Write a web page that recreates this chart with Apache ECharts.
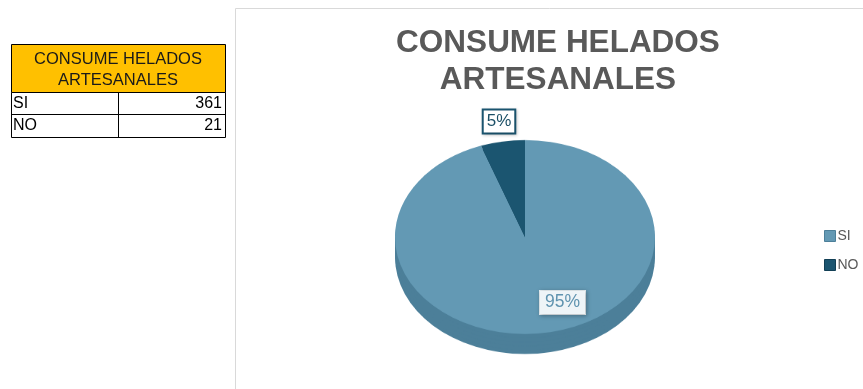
<!DOCTYPE html>
<html><head><meta charset="utf-8">
<script src="https://cdn.jsdelivr.net/npm/echarts@6/dist/echarts.min.js"></script>
<style>
html,body{margin:0;padding:0;background:#fff;width:863px;height:389px;overflow:hidden}
#pie{position:absolute;left:0;top:0;width:863px;height:521px;transform-origin:0 0;transform:scaleY(0.746);z-index:1}
#main{position:absolute;left:0;top:0;width:863px;height:389px;z-index:2}
</style></head><body>
<div id="pie"></div><div id="main"></div>
<script>
// ---- data ----
const categories = ['SI', 'NO'];
const values = [361, 21];
const tableHeader = ['CONSUME HELADOS', 'ARTESANALES'];
const chartTitle = 'CONSUME HELADOS\nARTESANALES';

// ---- styles ----
const topColors = ['#6399b4', '#1b5570'];
const sideColors = ['#4c7f99', '#123f55'];
const SCALE = 0.746;
const CX = 525, CY = 237, R = 130;
const FONT = "'Liberation Sans', Arial, sans-serif";

const total = values.reduce((a, b) => a + b, 0);
const pieData = categories.map((c, i) => ({ name: c, value: values[i] }));

// ---- 3D-looking elliptical pie (squashed instance) ----
const pieChart = echarts.init(document.getElementById('pie'), null, { renderer: 'canvas' });
const pieSeries = [];
[20, 16, 12, 8, 4].forEach(k => {
  pieSeries.push({
    type: 'pie', silent: true, animation: false,
    center: [CX, (CY + k) / SCALE], radius: R,
    startAngle: 90, clockwise: true,
    label: { show: false }, labelLine: { show: false },
    itemStyle: { color: p => sideColors[p.dataIndex], borderWidth: 0 },
    data: pieData
  });
});
pieSeries.push({
  type: 'pie', silent: true, animation: false,
  center: [CX, CY / SCALE], radius: R,
  startAngle: 90, clockwise: true,
  label: { show: false }, labelLine: { show: false },
  itemStyle: { color: p => topColors[p.dataIndex], borderWidth: 0 },
  data: pieData
});
pieChart.setOption({ backgroundColor: 'transparent', series: pieSeries });

// ---- main instance: table, frame, title, legend, labels ----
const main = echarts.init(document.getElementById('main'), null, { renderer: 'canvas' });
const labelPos = [[562.5, 302.5], [499, 121.5]];
const tblL = 11, tblR = 225, tblMid = 118, tblTop = 44, hdrBot = 92, row1 = 114, row2 = 137;
const graphic = [
  { type: 'rect', shape: { x: 235.5, y: 8.5, width: 700, height: 500 }, style: { fill: 'none', stroke: '#d9d9d9', lineWidth: 1 }, z: 0 },
  { type: 'rect', shape: { x: tblL + 0.5, y: tblTop + 0.5, width: tblR - tblL, height: hdrBot - tblTop }, style: { fill: '#ffc000', stroke: '#000', lineWidth: 1 } },
  { type: 'rect', shape: { x: tblL + 0.5, y: hdrBot + 0.5, width: tblR - tblL, height: row2 - hdrBot }, style: { fill: '#fff', stroke: '#000', lineWidth: 1 } },
  { type: 'line', shape: { x1: tblL, y1: row1 + 0.5, x2: tblR, y2: row1 + 0.5 }, style: { stroke: '#000', lineWidth: 1 } },
  { type: 'line', shape: { x1: tblMid + 0.5, y1: hdrBot, x2: tblMid + 0.5, y2: row2 }, style: { stroke: '#000', lineWidth: 1 } },
  { type: 'text', x: (tblL + tblR) / 2, y: 59, style: { text: tableHeader[0], font: '16.5px ' + FONT, fill: '#1a1a1a', textAlign: 'center', textVerticalAlign: 'middle' } },
  { type: 'text', x: (tblL + tblR) / 2, y: 80.5, style: { text: tableHeader[1], font: '16.5px ' + FONT, fill: '#1a1a1a', textAlign: 'center', textVerticalAlign: 'middle' } }
];
const rowY = [103.5, 125.5];
categories.forEach((c, i) => {
  graphic.push({ type: 'text', x: 13, y: rowY[i], style: { text: c, font: '16px ' + FONT, fill: '#000', textAlign: 'left', textVerticalAlign: 'middle' } });
  graphic.push({ type: 'text', x: 222, y: rowY[i], style: { text: String(values[i]), font: '16px ' + FONT, fill: '#000', textAlign: 'right', textVerticalAlign: 'middle' } });
});

main.setOption({
  backgroundColor: 'transparent',
  animation: false,
  graphic: { elements: graphic },
  title: {
    text: chartTitle, left: 553, top: 20, textAlign: 'center',
    textStyle: { fontFamily: FONT, fontSize: 31.5, fontWeight: 'bold', color: '#595959', lineHeight: 37 }
  },
  legend: {
    orient: 'vertical', left: 819, top: 224, itemWidth: 11, itemHeight: 11, itemGap: 15,
    icon: 'rect',
    textStyle: { fontFamily: FONT, fontSize: 14, color: '#595959', padding: [0, 0, 0, -3] },
    data: categories.map((c, i) => ({ name: c, itemStyle: { color: topColors[i], opacity: 1, borderColor: sideColors[i], borderWidth: 1 } }))
  },
  series: [{
    type: 'pie', silent: true, center: [CX, CY], radius: 97,
    startAngle: 90, clockwise: true,
    itemStyle: { color: p => topColors[p.dataIndex], opacity: 0 },
    labelLine: { show: false },
    label: {
      show: true, position: 'inside',
      formatter: p => Math.round(p.value / total * 100) + '%',
      fontFamily: FONT, fontSize: 17.5, opacity: 1
    },
    labelLayout: p => ({ x: labelPos[p.dataIndex][0], y: labelPos[p.dataIndex][1], align: 'center', verticalAlign: 'middle' }),
    data: pieData.map((d, i) => ({
      name: d.name, value: d.value,
      label: i === 0
        ? { color: '#5f93af', backgroundColor: '#eef4f7', padding: [3, 5, 2, 5], borderColor: '#e4ecf0', borderWidth: 1, shadowColor: 'rgba(0,0,0,0.25)', shadowBlur: 4, shadowOffsetX: 1, shadowOffsetY: 1 }
        : { color: '#1b4f66', backgroundColor: '#ffffff', padding: [3, 3, 2, 3], borderColor: '#1b5570', borderWidth: 2, fontSize: 17, shadowColor: 'rgba(0,0,0,0.2)', shadowBlur: 3, shadowOffsetX: 1, shadowOffsetY: 1 }
    }))
  }]
});
</script>
</body></html>
